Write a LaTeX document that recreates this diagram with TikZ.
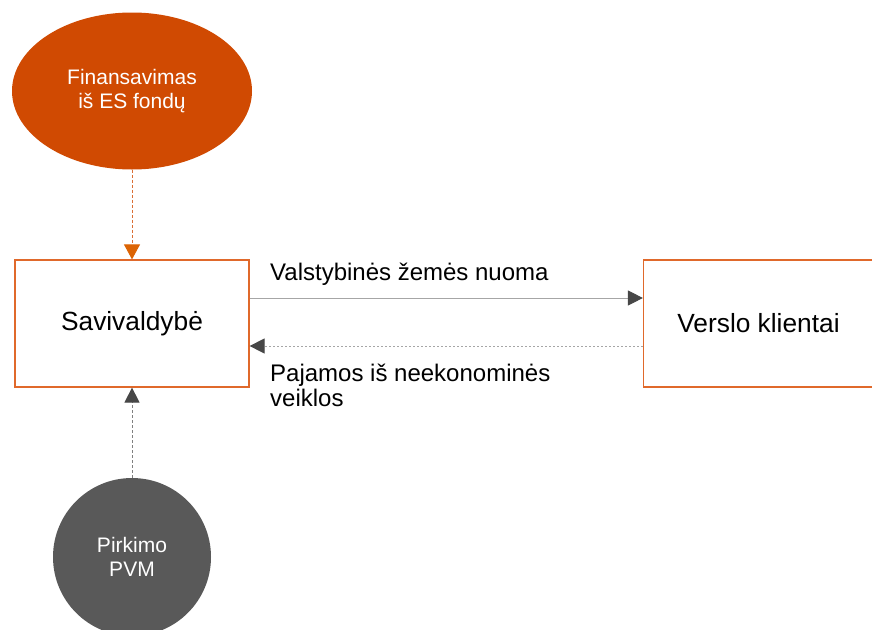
\documentclass[tikz,border=0pt]{standalone}
\usepackage{fontspec}
\setmainfont{Liberation Sans}
\usetikzlibrary{arrows.meta,shapes.geometric}
\definecolor{pwcorange}{HTML}{D04A02}
\definecolor{boxorange}{HTML}{E0692B}
\definecolor{tiporange}{HTML}{DC6404}
\definecolor{darkgrey}{HTML}{595959}
\definecolor{tipgrey}{HTML}{474747}
\definecolor{linegrey}{HTML}{A6A6A6}
\definecolor{dotgrey}{HTML}{808080}
\tikzset{
  flowbox/.style = {draw = boxorange, line width = 1.2pt, rectangle, minimum height = 127pt, inner sep = 0pt, font = \fontsize{26.3}{31}\selectfont},
  blob/.style = {inner sep = 0pt, text = white, align = center, font = \fontsize{21}{24}\selectfont},
  lbl/.style = {inner sep = 0pt, align = left, font = \fontsize{24}{24.5}\selectfont},
  greytip/.style = {-{Triangle[length = 15pt, width = 15pt, color = tipgrey]}}
}
\begin{document}
\begin{tikzpicture}[x = 1pt, y = -1pt]
    \useasboundingbox (0,0) rectangle (872,629);
    \node[blob, ellipse, fill = pwcorange, minimum width = 240pt, minimum height = 157pt] (fin) at (132,91) {Finansavimas\\iš ES fondų};
    \node[flowbox, minimum width = 234pt] (savi) at (132,323.5) {Savivaldybė};
    \node[flowbox, minimum width = 230pt] (verslo) at (758.5,323.5) {Verslo klientai};
    \node[blob, circle, fill = darkgrey, minimum size = 158pt] (pvm) at (132,557) {Pirkimo\\PVM};
    \draw[pwcorange!80, line width = 1pt, dash pattern = on 3pt off 2pt, -{Triangle[length = 15pt, width = 16pt, color = tiporange]}] (fin) -- (savi);
    \draw[linegrey, line width = 1pt, greytip] ([yshift = 25.5pt]savi.east) -- ([yshift = 25.5pt]verslo.west);
    \draw[linegrey, line width = 1pt, dash pattern = on 2pt off 2pt, greytip] ([yshift = -22.5pt]verslo.west) -- ([yshift = -22.5pt]savi.east);
    \draw[dotgrey, line width = 1pt, dash pattern = on 3pt off 2pt, greytip] (pvm) -- (savi);
    \node[lbl, anchor = base west] (rent) at (270,280) {Valstybinės žemės nuoma};
    \node[lbl, anchor = base west] (income) at (270,406) {Pajamos iš neekonominės\\veiklos};
\end{tikzpicture}
\end{document}
